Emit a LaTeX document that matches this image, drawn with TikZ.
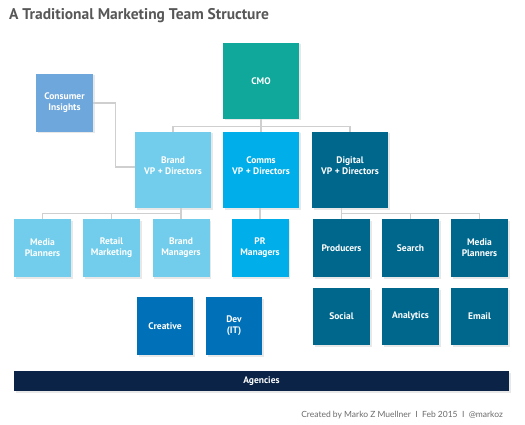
\documentclass[tikz,border=0pt]{standalone}
\usepackage{fontspec}
\setmainfont{PT Sans}
\newfontfamily\footfont{Lato}
\usetikzlibrary{shadows,calc}
\definecolor{titlegray}{HTML}{575757}
\definecolor{cmoc}{HTML}{10A89B}
\definecolor{consc}{HTML}{6EA7DC}
\definecolor{brandc}{HTML}{71CDEB}
\definecolor{commsc}{HTML}{00AEEA}
\definecolor{digc}{HTML}{00678C}
\definecolor{devc}{HTML}{0071B9}
\definecolor{agc}{HTML}{0A2347}
\definecolor{linec}{HTML}{CFCFCF}
\definecolor{footc}{HTML}{6A6A6A}
\tikzset{
  orgbox/.style={rectangle, inner sep=0pt, align=center, text=white,
    font=\fontsize{9.5}{11}\selectfont\bfseries,
    drop shadow={opacity=0.18, shadow xshift=1.5pt, shadow yshift=-1.5pt}},
  bigbox/.style={orgbox, minimum width=76pt, minimum height=76pt},
  smallbox/.style={orgbox, minimum width=57pt, minimum height=58pt},
  conn/.style={draw=linec, line width=1.1pt},
}
\begin{document}
\begin{tikzpicture}[x=1pt,y=-1pt]
\useasboundingbox (0,0) rectangle (525,425);
\node[anchor=west, text=titlegray, font=\fontsize{15.5}{18}\selectfont\bfseries, inner sep=0pt] (title) at (9,16) {A Traditional Marketing Team Structure};

\node[bigbox, fill=cmoc] (cmo) at (261,81) {CMO};
\node[smallbox, fill=consc] (cons) at (64.5,103) {Consumer\\Insights};
\node[bigbox, fill=brandc] (brand) at (173,170) {Brand\\VP + Directors\\[-3pt]\mbox{}};
\node[bigbox, fill=commsc] (comms) at (261,170) {Comms\\VP + Directors\\[-3pt]\mbox{}};
\node[bigbox, fill=digc] (dig) at (350,170) {Digital\\VP + Directors\\[-3pt]\mbox{}};

\node[smallbox, fill=brandc] (mp1) at (42.5,248) {Media\\Planners};
\node[smallbox, fill=brandc] (rm) at (111.5,248) {Retail\\Marketing};
\node[smallbox, fill=brandc] (bm) at (181,248) {Brand\\Managers};
\node[smallbox, fill=commsc] (pr) at (260,248) {PR\\Managers};
\node[smallbox, fill=digc] (prod) at (341.5,248) {Producers};
\node[smallbox, fill=digc] (search) at (410.5,248) {Search};
\node[smallbox, fill=digc] (mp2) at (479.5,248) {Media\\Planners};

\node[smallbox, fill=digc, minimum height=57pt] (social) at (341.5,316.5) {Social};
\node[smallbox, fill=digc, minimum height=57pt] (anal) at (410.5,316.5) {Analytics};
\node[smallbox, fill=digc, minimum height=57pt] (email) at (479.5,316.5) {Email};

\node[smallbox, fill=devc, minimum width=56pt] (creative) at (165,326) {Creative};
\node[smallbox, fill=devc, minimum width=56pt] (dev) at (234,326) {Dev\\(IT)};

\node[orgbox, fill=agc, minimum width=495pt, minimum height=20pt] (agencies) at (261.5,381) {Agencies};

\node[anchor=east, inner sep=0pt, text=footc, font=\footfont\fontsize{8.5}{10}\selectfont] (foot) at (503,415) {Created by Marko Z Muellner \ I \ Feb 2015 \ I \ @markoz};

\draw[conn] (cmo.south) -- ++(0,7) coordinate (cmobus);
\draw[conn] (brand.north) |- (cmobus) -| (dig.north);
\draw[conn] (cmobus) -- (comms.north);
\draw[conn] (cons.east) -- ++(22,0) |- ($(brand.west)+(0,-3)$);

\draw[conn] (bm.north |- brand.south) -- (bm.north);
\draw[conn] (mp1.north) -- ++(0,-5) -| (bm.north);
\draw[conn] (rm.north) -- ++(0,-5);

\draw[conn] (pr.north |- comms.south) -- (pr.north);

\draw[conn] (prod.north |- dig.south) -- (prod.north);
\draw[conn] (prod.north) -- ++(0,-5) -| (mp2.north);
\draw[conn] (search.north) -- ++(0,-5);
\end{tikzpicture}
\end{document}
